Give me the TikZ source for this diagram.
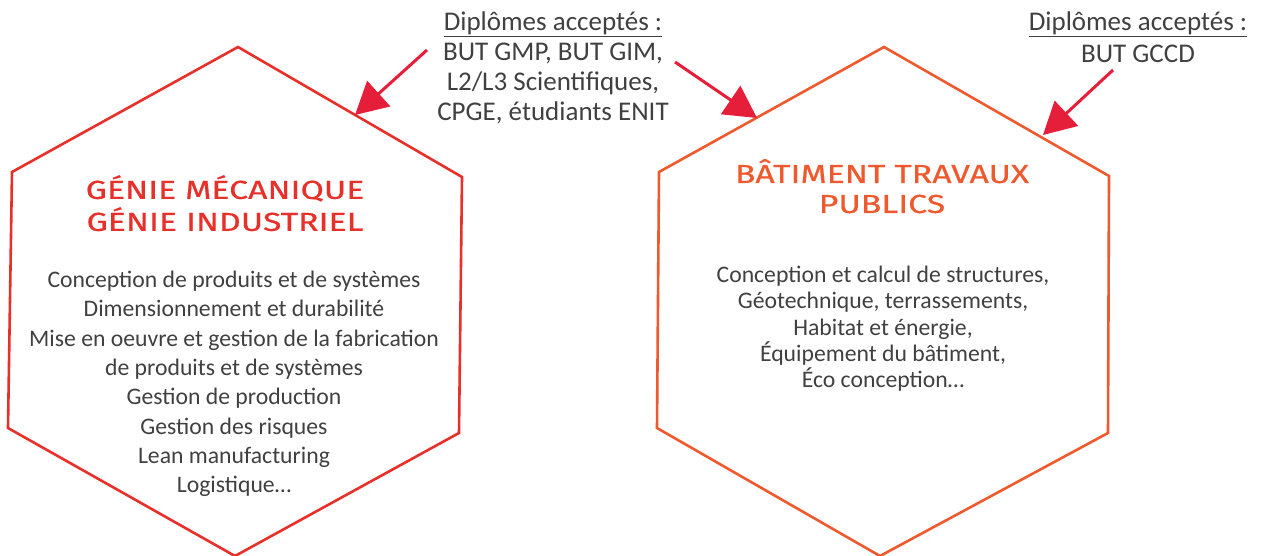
\documentclass[tikz,border=0pt]{standalone}
\usepackage{fontspec}
\setmainfont{Carlito}
\newfontfamily\titlefont[FakeStretch=1.3,FakeBold=0.6]{Fira Sans}
\usetikzlibrary{arrows.meta}
\definecolor{gm}{HTML}{E8302A}
\definecolor{btp}{HTML}{EE5A2E}
\definecolor{arr}{HTML}{E51E3A}
\definecolor{txt}{HTML}{404040}
\tikzset{
  hexa/.style={line width=2.6pt, line join=miter},
  pointer/.style={arr, line width=3pt, -{Triangle[length=32pt,width=34pt]}},
  small/.style={txt, align=center, inner sep=0pt, font=\fontsize{27}{30}\selectfont},
  body/.style={txt, align=center, inner sep=0pt, font=\fontsize{23.7}{29.3}\selectfont},
  title/.style={align=center, inner sep=0pt, font=\titlefont\fontsize{26}{32}\selectfont},
}
\begin{document}
\begin{tikzpicture}[x=1pt,y=-1pt]
\useasboundingbox (0,0) rectangle (1263,556);
% left hexagon
\coordinate (l1) at (238,47);
\coordinate (l2) at (462,177);
\coordinate (l3) at (459,433);
\coordinate (l4) at (235,556);
\coordinate (l5) at (8,428);
\coordinate (l6) at (12,172);
\draw[hexa, gm] (l1) -- (l2) -- (l3) -- (l4) -- (l5) -- (l6) -- cycle;
% right hexagon
\coordinate (r1) at (884,47);
\coordinate (r2) at (1109,176);
\coordinate (r3) at (1108,433);
\coordinate (r4) at (880,556);
\coordinate (r5) at (657,428);
\coordinate (r6) at (659,172);
\draw[hexa, btp] (r1) -- (r2) -- (r3) -- (r4) -- (r5) -- (r6) -- cycle;
% texts
\node[small, anchor=north] (dip1) at (553,12) {\underline{Diplômes acceptés :}\\BUT GMP, BUT GIM,\\L2/L3 Scientifiques,\\CPGE, étudiants ENIT};
\node[small, anchor=north] (dip2) at (1138,12) {\underline{Diplômes acceptés :}\\[2pt]BUT GCCD};
\node[title, gm, anchor=north] (t1) at (225,175) {GÉNIE MÉCANIQUE\\GÉNIE INDUSTRIEL};
\node[title, btp, anchor=north, font=\titlefont\fontsize{26}{30}\selectfont] (t2) at (882,159) {BÂTIMENT TRAVAUX\\PUBLICS};
\node[body, anchor=north] (b1) at (234,271) {Conception de produits et de systèmes\\Dimensionnement et durabilité\\Mise en oeuvre et gestion de la fabrication\\de produits et de systèmes\\Gestion de production\\Gestion des risques\\Lean manufacturing\\Logistique…};
\node[body, anchor=north, font=\fontsize{23.7}{26.3}\selectfont] (b2) at (883,266) {Conception et calcul de structures,\\Géotechnique, terrassements,\\Habitat et énergie,\\Équipement du bâtiment,\\Éco conception…};
% arrows
\coordinate (a1s) at (427,50);
\coordinate (a1e) at (355,115);
\coordinate (a2s) at (675,62);
\coordinate (a2e) at (757,118);
\coordinate (a3s) at (1113,70);
\coordinate (a3e) at (1043,135);
\draw[pointer] (a1s) -- (a1e);
\draw[pointer] (a2s) -- (a2e);
\draw[pointer] (a3s) -- (a3e);
\end{tikzpicture}
\end{document}
